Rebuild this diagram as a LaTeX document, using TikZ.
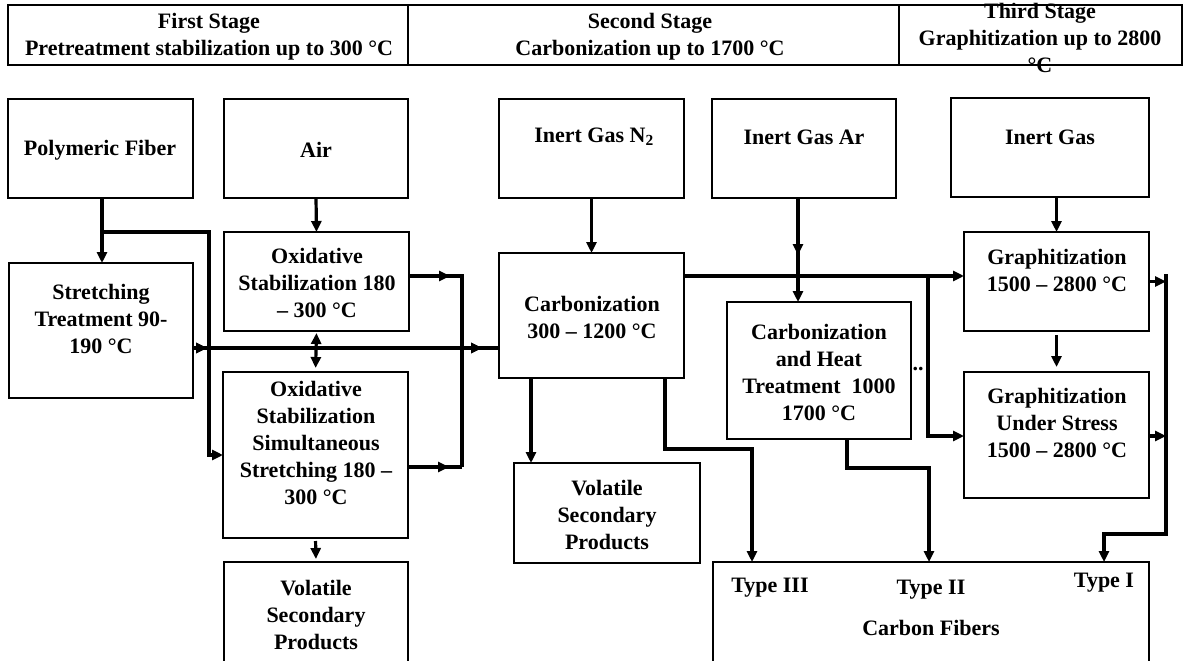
\documentclass[tikz,border=0pt]{standalone}
\usepackage{fontspec}
\setmainfont{Liberation Serif}
\usetikzlibrary{arrows.meta,decorations.markings}
\tikzset{
  Tri/.tip={Triangle[length=11pt,width=10pt]},
  box/.style={draw, line width=1.6pt, inner sep=0pt, outer sep=0pt},
  txt/.style={font=\fontsize{22}{27}\selectfont\bfseries, align=center, inner sep=0pt},
  conn/.style={line width=3.2pt},
  arr/.style={conn, -Tri},
  midtip/.style={postaction={decorate}, decoration={markings, mark=at position #1 with {\arrow{Tri}}}},
}
\newcommand\bx[5]{\node[box, minimum width={(#4)-(#2)}, minimum height={(#5)-(#3)}] (#1) at ({((#2)+(#4))/2},{((#3)+(#5))/2}) {};}
\begin{document}
\begin{tikzpicture}[x=1pt,y=-1pt]
\useasboundingbox (0,0) rectangle (1184,661);
% header
\bx{h1}{8}{5}{408}{65}
\bx{h2}{408}{5}{899}{65}
\bx{h3}{899}{5}{1182}{65}
\node[txt] (h1t) at (209,37) {First Stage\\Pretreatment stabilization\ up to 300 °C};
\node[txt] (h2t) at (650,37) {Second Stage\\Carbonization up to 1700 °C};
\node[txt] (h3t) at (1040,38) {Third Stage\\Graphitization up to 2800\\°C};
% row 1
\bx{PF}{8}{99}{193}{198}
\bx{Air}{224}{99}{408}{198}
\bx{N2}{499}{99}{684}{198}
\bx{Ar}{712}{99}{896}{198}
\bx{IG}{951}{98}{1149}{197}
\node[txt] (PFt) at (100,150) {Polymeric Fiber};
\node[txt] (Airt) at (316,150) {Air};
\node[txt] (N2t) at (594,137) {Inert Gas N\textsubscript{2}};
\node[txt] (Art) at (804,137) {Inert Gas Ar};
\node[txt] (IGt) at (1050,137) {Inert Gas};
% first stage
\bx{Str}{9}{263}{193}{398}
\node[txt] (Strt) at (101,319) {Stretching\\Treatment 90-\\190 °C};
\bx{ox1}{224}{232}{409}{331}
\node[txt] (ox1t) at (317,283) {Oxidative\\Stabilization 180\\– 300 °C};
\bx{ox2}{223}{372}{408}{538}
\node[txt] (ox2t) at (316,443) {Oxidative\\Stabilization\\Simultaneous\\Stretching 180 –\\300 °C};
\bx{vol1}{224}{562}{408}{672}
\node[txt] (vol1t) at (316,615) {Volatile\\Secondary\\Products};
% second stage
\bx{Carb}{499}{253}{684}{378}
\node[txt] (Carbt) at (592,317) {Carbonization\\300 – 1200 °C};
\bx{vol2}{514}{463}{700}{563}
\node[txt] (vol2t) at (607,515) {Volatile\\Secondary\\Products};
\bx{CHT}{727}{302}{911}{439}
\node[txt] (CHTt) at (819,372) {Carbonization\\and Heat\\Treatment\ \ 1000\\1700 °C};
\node[txt] (dots) at (918,369) {..};
% third stage
\bx{G1}{964}{232}{1149}{331}
\node[txt] (G1t) at (1057,270) {Graphitization\\1500 – 2800 °C};
\bx{G2}{964}{372}{1149}{498}
\node[txt] (G2t) at (1057,423) {Graphitization\\Under Stress\\1500 – 2800 °C};
% carbon fibers
\bx{CF}{713}{562}{1149}{672}
\node[txt] (t3) at (770,588) {Type III};
\node[txt] (t2) at (931,590) {Type II};
\node[txt] (t1) at (1104,583) {Type I};
\node[txt] (cft) at (931,628) {Carbon Fibers};
% coordinates
\coordinate (br1) at (209,232);
\coordinate (br2) at (209,455);
\coordinate (ml) at (0,348);
\coordinate (col1) at (462,276);
\coordinate (col2) at (462,467);
\coordinate (arX) at (798,0);
\coordinate (gl) at (0,276);
\coordinate (gb1) at (928,276);
\coordinate (gb2) at (928,436);
\coordinate (r1) at (1166,274.4);
\coordinate (r2) at (1166,534);
\coordinate (r3) at (1104,534);
\coordinate (r4) at (1166,436);
\coordinate (v2x) at (531,0);
\coordinate (t3a) at (665,449);
\coordinate (t3b) at (752,449);
\coordinate (t2a) at (847,468);
\coordinate (t2b) at (929,468);
% connectors first stage
\draw[arr] (PF.south -| 102,0) -- (Str.north -| 102,0);
\draw[arr] (br1 -| 102,0) -- (br1) -- (br2) -- (ox2.west |- br2);
\draw[arr] (Air.south) -- (ox1.north);
\draw[conn, {Tri}-{Tri}, shorten <=2pt, shorten >=4pt] (ox1.south) -- (ox2.north);
\draw[arr, shorten <=3pt, shorten >=3pt] (ox2.south) -- (vol1.north);
\draw[conn, midtip=14pt, midtip=289pt] (Str.east |- ml) -- (Carb.west |- ml);
\draw[conn, midtip=41pt] (ox1.east |- col1) -- (col1) -- (col2);
\draw[conn, midtip=41pt] (ox2.east |- col2) -- (col2);
% second stage
\draw[arr] (N2.south) -- (Carb.north);
\draw[arr, midtip=57pt] (Ar.south -| arX) -- (CHT.north -| arX);
\draw[arr] (Carb.east |- gl) -- (G1.west |- gl);
\draw[arr] (gb1) -- (gb2) -- (G2.west |- gb2);
\draw[arr] (Carb.south -| v2x) -- (vol2.north -| v2x);
\draw[arr] (Carb.south -| t3a) -- (t3a) -- (t3b) -- (CF.north -| t3b);
\draw[arr] (CHT.south -| t2a) -- (t2a) -- (t2b) -- (CF.north -| t2b);
% third stage
\draw[arr] (G1.north |- IG.south) -- (G1.north);
\draw[arr, shorten <=4pt, shorten >=5pt] (G1.south) -- (G2.north);
\draw[arr] (G1.east) -- (r1 |- G1.east);
\draw[arr] (G2.east |- r4) -- (r4);
\draw[arr] (r1) -- (r2) -- (r3) -- (CF.north -| r3);
\end{tikzpicture}
\end{document}
